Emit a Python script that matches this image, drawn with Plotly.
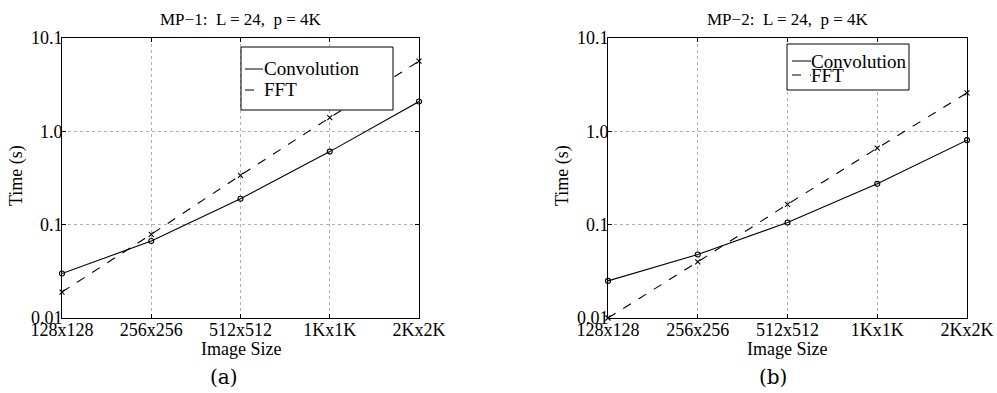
import plotly.graph_objects as go
import math

W, H = 997, 393

sizes = ["128x128", "256x256", "512x512", "1Kx1K", "2Kx2K"]
mp1_conv = [0.030, 0.067, 0.19, 0.61, 2.1]
mp1_fft = [0.019, 0.079, 0.34, 1.41, 5.7]
mp2_conv = [0.025, 0.048, 0.106, 0.275, 0.81]
mp2_fft = [0.010, 0.040, 0.166, 0.665, 2.6]
y_ticks = [0.01, 0.1, 1.0, 10.1]
y_ticktext = ["0.01", "0.1", "1.0", "10.1"]
titles = ["MP\u22121:  L = 24,  p = 4K", "MP\u22122:  L = 24,  p = 4K"]
captions = ["(a)", "(b)"]

FONT = "Liberation Serif, Times New Roman, serif"


def px(x):
    return x / W


def py(y):
    return 1 - y / H


fig = go.Figure()

panels = [
    dict(x0=62, x1=419, conv=mp1_conv, fft=mp1_fft, xa="x", ya="y", ylab=16, xlab=241, cap=224),
    dict(x0=608, x1=967, conv=mp2_conv, fft=mp2_fft, xa="x2", ya="y2", ylab=562, xlab=787, cap=773),
]
top, bottom = 38, 318

for i, p in enumerate(panels):
    for name, vals, dash, sym, ms in [("Convolution", p["conv"], "solid", "circle-open", 5),
                                      ("FFT", p["fft"], "dash", "x-thin-open", 5)]:
        fig.add_trace(go.Scatter(
            x=sizes, y=vals, mode="lines+markers", name=name,
            line=dict(color="black", width=1.1, dash=dash),
            marker=dict(symbol=sym, size=ms, color="black", line=dict(color="black", width=1.1)),
            xaxis=p["xa"], yaxis=p["ya"], showlegend=False, cliponaxis=False,
        ))

axis_common = dict(
    showline=True, linecolor="black", linewidth=1, mirror="ticks",
    ticks="inside", ticklen=4, tickcolor="black",
    showgrid=True, gridcolor="#b0b0b0", griddash="dot", gridwidth=1,
    zeroline=False, automargin=False,
    tickfont=dict(family=FONT, size=18, color="black"),
)

layout = dict(
    width=W, height=H, margin=dict(l=0, r=0, t=0, b=0),
    paper_bgcolor="white", plot_bgcolor="white",
    showlegend=False,
)
for i, p in enumerate(panels):
    sfx = "" if i == 0 else str(i + 1)
    layout["xaxis" + sfx] = dict(
        axis_common, domain=[px(p["x0"]), px(p["x1"])], anchor="y" + sfx,
        type="category", range=[0, len(sizes) - 1],
        ticklabelstandoff=-5,
    )
    layout["yaxis" + sfx] = dict(
        axis_common, domain=[py(bottom), py(top)], anchor="x" + sfx,
        type="log", range=[-2, math.log10(10.1)],
        tickvals=y_ticks, ticktext=y_ticktext,
        ticklabelstandoff=-5,
    )
fig.update_layout(**layout)

annotations = []
shapes = []
for i, p in enumerate(panels):
    cx = (p["x0"] + p["x1"]) / 2
    annotations.append(dict(text=titles[i], x=px(cx), y=py(19), xref="paper", yref="paper",
                            showarrow=False, font=dict(family=FONT, size=17, color="black"),
                            xanchor="center", yanchor="middle"))
    annotations.append(dict(text="Image Size", x=px(p["xlab"]), y=py(349), xref="paper", yref="paper",
                            showarrow=False, font=dict(family=FONT, size=18, color="black"),
                            xanchor="center", yanchor="middle"))
    annotations.append(dict(text="Time (s)", x=px(p["ylab"]), y=py(176), xref="paper", yref="paper",
                            showarrow=False, textangle=-90, font=dict(family=FONT, size=18, color="black"),
                            xanchor="center", yanchor="middle"))
    annotations.append(dict(text=captions[i], x=px(p["cap"]), y=py(377), xref="paper", yref="paper",
                            showarrow=False, font=dict(family="DejaVu Serif, serif", size=20, color="black"),
                            xanchor="center", yanchor="middle"))

# legends
legends = [
    dict(bx0=241, bx1=393, by0=47, by1=110, rows=[69, 90], lx0=245, lx1=263, tx=265),
    dict(bx0=787, bx1=909, by0=44, by1=90, rows=[61, 75], lx0=792, lx1=811, tx=812),
]
for lg in legends:
    shapes.append(dict(type="rect", xref="paper", yref="paper",
                       x0=px(lg["bx0"]), x1=px(lg["bx1"]), y0=py(lg["by1"]), y1=py(lg["by0"]),
                       line=dict(color="black", width=1), fillcolor="white"))
    for (label, dash), ry in zip([("Convolution", "solid"), ("FFT", "dash")], lg["rows"]):
        shapes.append(dict(type="line", xref="paper", yref="paper",
                           x0=px(lg["lx0"]), x1=px(lg["lx1"]), y0=py(ry), y1=py(ry),
                           line=dict(color="black", width=1, dash=dash)))
        annotations.append(dict(text=label, x=px(lg["tx"]), y=py(ry), xref="paper", yref="paper",
                                showarrow=False, font=dict(family=FONT, size=19, color="black"),
                                xanchor="left", yanchor="middle", xshift=-3))

fig.update_layout(annotations=annotations, shapes=shapes)
fig.write_html("out.html")
